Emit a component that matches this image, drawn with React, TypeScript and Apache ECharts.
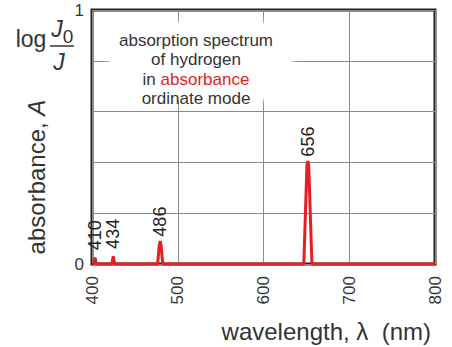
import React, { useEffect, useRef } from "react";
import * as echarts from "echarts";

// spectrum: wavelength (nm) / absorbance
const wavelengths = [400, 402, 403.5, 405, 423, 424.8, 426.5, 476.5, 478.5, 479.5, 480.5, 482.5, 647, 650.7, 651.7, 652.7, 656.5, 800];
const absorbance = [0, 0, 0.025, 0, 0, 0.03, 0, 0, 0.075, 0.09, 0.075, 0, 0, 0.39, 0.405, 0.39, 0, 0];

// peak labels
const peakX = [403.5, 424.8, 479.5, 651.7];
const peakY = [0.025, 0.03, 0.09, 0.405];
const peakLabels = ["410", "434", "486", "656"];

// axis ticks
const yTickLabels: Record<string, string> = { "0": "0", "1": "1" };

const FONT = '"Liberation Sans", Arial, Helvetica, sans-serif';
const TEXT = "#333";
const RED = "#e31e24";

export default function App() {
  const ref = useRef<HTMLDivElement>(null);
  useEffect(() => {
    if (!ref.current) return;
    const chart = echarts.init(ref.current, undefined, { renderer: "svg" });
    const option: any = {
      animation: false,
      backgroundColor: "#fff",
      textStyle: { fontFamily: FONT },
      grid: {
        left: 92,
        right: 17,
        top: 10,
        bottom: 83,
        show: true,
        borderColor: "#222",
        borderWidth: 3,
        backgroundColor: "transparent",
      },
      xAxis: {
        type: "value",
        min: 400,
        max: 800,
        interval: 100,
        axisLine: { show: false },
        axisTick: { show: false },
        splitLine: { show: true, lineStyle: { color: "#8a8a8a", width: 1 } },
        axisLabel: { rotate: 90, fontSize: 17, color: TEXT, margin: 12, fontFamily: FONT },
      },
      yAxis: {
        type: "value",
        min: 0,
        max: 1,
        interval: 0.2,
        axisLine: { show: false },
        axisTick: { show: false },
        splitLine: { show: true, lineStyle: { color: "#8a8a8a", width: 1 } },
        axisLabel: {
          fontSize: 17,
          color: TEXT,
          margin: 8,
          fontFamily: FONT,
          formatter: (v: number) => yTickLabels[String(v)] ?? "",
        },
      },
      series: [
        {
          type: "line",
          data: wavelengths.map((w, i) => [w, absorbance[i]]),
          symbol: "none",
          lineStyle: { color: RED, width: 3 },
          clip: false,
          z: 3,
        },
        {
          type: "scatter",
          data: peakX.map((x, i) => ({
            value: [x, peakY[i], peakLabels[i]],
            label: { offset: i < 2 ? [3, 0] : [0, 0] },
          })),
          symbolSize: 1,
          itemStyle: { color: "rgba(0,0,0,0)", opacity: 1 },
          emphasis: { disabled: true },
          label: {
            show: true,
            position: "top",
            rotate: 90,
            align: "left",
            verticalAlign: "middle",
            distance: 4,
            fontSize: 18,
            color: "#222",
            opacity: 1,
            fontFamily: FONT,
            formatter: (p: any) => p.value[2],
          },
          z: 4,
        },
      ],
      graphic: [
        {
          type: "rect",
          z: 5,
          shape: { x: 110, y: 23, width: 182, height: 76, r: 30 },
          style: { fill: "#fff", shadowBlur: 8, shadowColor: "#fff" },
        },
        {
          type: "text",
          z: 6,
          style: { text: "absorption spectrum", x: 196, y: 40, font: `17px ${FONT}`, fill: TEXT, textAlign: "center", textVerticalAlign: "middle" },
        },
        {
          type: "text",
          z: 6,
          style: { text: "of hydrogen", x: 196, y: 59.5, font: `17px ${FONT}`, fill: TEXT, textAlign: "center", textVerticalAlign: "middle" },
        },
        {
          type: "text",
          z: 6,
          style: {
            text: "{k|in }{r|absorbance}",
            x: 196,
            y: 79,
            textAlign: "center",
            textVerticalAlign: "middle",
            rich: {
              k: { fontSize: 17, fontFamily: FONT, fill: TEXT, color: TEXT },
              r: { fontSize: 17, fontFamily: FONT, fill: RED, color: RED },
            },
          },
        },
        {
          type: "text",
          z: 6,
          style: { text: "ordinate mode", x: 196, y: 98.5, font: `17px ${FONT}`, fill: TEXT, textAlign: "center", textVerticalAlign: "middle" },
        },
        // log J0 / J
        {
          type: "text",
          z: 6,
          style: { text: "log", x: 31, y: 39, font: `23px ${FONT}`, fill: TEXT, textAlign: "center", textVerticalAlign: "middle" },
        },
        {
          type: "line",
          z: 6,
          shape: { x1: 50, y1: 46, x2: 74, y2: 46 },
          style: { stroke: TEXT, lineWidth: 1.5 },
        },
        {
          type: "text",
          z: 6,
          style: { text: "J", x: 57, y: 29, font: `italic 23px ${FONT}`, fill: TEXT, textAlign: "center", textVerticalAlign: "middle" },
        },
        {
          type: "text",
          z: 6,
          style: { text: "0", x: 68, y: 36, font: `19px ${FONT}`, fill: TEXT, textAlign: "center", textVerticalAlign: "middle" },
        },
        {
          type: "text",
          z: 6,
          style: { text: "J", x: 59, y: 62, font: `italic 23px ${FONT}`, fill: TEXT, textAlign: "center", textVerticalAlign: "middle" },
        },
        // axis names
        {
          type: "text",
          z: 6,
          style: { text: "wavelength, λ  (nm)", x: 431, y: 331, font: `24px ${FONT}`, fill: TEXT, textAlign: "right", textVerticalAlign: "middle" },
        },
        {
          type: "text",
          z: 6,
          x: 36,
          y: 177,
          rotation: Math.PI / 2,
          style: {
            text: "{n|absorbance, }{i|A}",
            x: 0,
            y: 0,
            textAlign: "center",
            textVerticalAlign: "middle",
            rich: {
              n: { fontSize: 24, fontFamily: FONT, fill: TEXT, color: TEXT },
              i: { fontSize: 24, fontFamily: FONT, fontStyle: "italic", fill: TEXT, color: TEXT },
            },
          },
        },
      ],
    };
    chart.setOption(option);
    return () => chart.dispose();
  }, []);
  return (
    <div
      ref={ref}
      style={{ position: "fixed", left: 0, top: 0, width: 452, height: 347 }}
    />
  );
}
